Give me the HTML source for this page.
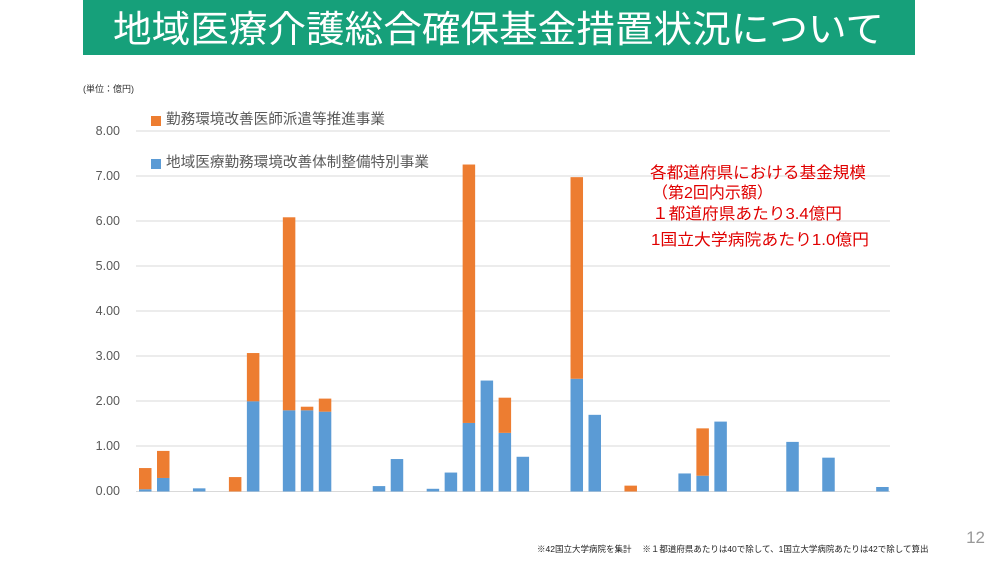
<!DOCTYPE html>
<html><head><meta charset="utf-8"><style>
body{margin:0;background:#fff;width:1000px;height:562px;overflow:hidden;font-family:"Liberation Sans","Noto Sans CJK JP",sans-serif}
</style></head><body>
<svg width="1000" height="562" xmlns="http://www.w3.org/2000/svg" style="position:absolute;left:0;top:0;font-family:'Liberation Sans','Noto Sans CJK JP',sans-serif">
<rect x="83" y="0" width="832" height="55" fill="#16a07a"/>
<text x="113" y="42" font-size="37" fill="#fff" textLength="771" lengthAdjust="spacingAndGlyphs">地域医療介護総合確保基金措置状況について</text>
<text x="83" y="92" font-size="9" fill="#333">(単位：億円)</text>
<g stroke="#d9d9d9" stroke-width="1">
<line x1="136" x2="890" y1="131" y2="131"/><line x1="136" x2="890" y1="176" y2="176"/>
<line x1="136" x2="890" y1="221" y2="221"/><line x1="136" x2="890" y1="266" y2="266"/>
<line x1="136" x2="890" y1="311" y2="311"/><line x1="136" x2="890" y1="356" y2="356"/>
<line x1="136" x2="890" y1="401" y2="401"/><line x1="136" x2="890" y1="446" y2="446"/>
<line x1="136" x2="890" y1="491.5" y2="491.5"/>
</g>
<g font-size="12.5" fill="#595959" text-anchor="end">
<text x="120" y="135">8.00</text><text x="120" y="180">7.00</text><text x="120" y="225">6.00</text>
<text x="120" y="270">5.00</text><text x="120" y="315">4.00</text><text x="120" y="360">3.00</text>
<text x="120" y="405">2.00</text><text x="120" y="450">1.00</text><text x="120" y="495">0.00</text>
</g>
<rect x="151" y="116" width="10" height="10" fill="#ed7d31"/>
<text x="166" y="124" font-size="14.5" fill="#595959" textLength="219" lengthAdjust="spacingAndGlyphs">勤務環境改善医師派遣等推進事業</text>
<rect x="151" y="159" width="10" height="10" fill="#5b9bd5"/>
<text x="166" y="167" font-size="14.5" fill="#595959" textLength="263" lengthAdjust="spacingAndGlyphs">地域医療勤務環境改善体制整備特別事業</text>
<g fill="#5b9bd5">
<rect x="139" y="489.24" width="12.5" height="2.26"/>
<rect x="157" y="477.97" width="12.5" height="13.53"/>
<rect x="192.94" y="488.34" width="12.5" height="3.16"/>
<rect x="246.88" y="401.3" width="12.5" height="90.2"/>
<rect x="282.84" y="410.32" width="12.5" height="81.18"/>
<rect x="300.82" y="410.32" width="12.5" height="81.18"/>
<rect x="318.8" y="411.67" width="12.5" height="79.83"/>
<rect x="372.74" y="486.09" width="12.5" height="5.41"/>
<rect x="390.72" y="459.03" width="12.5" height="32.47"/>
<rect x="426.68" y="488.79" width="12.5" height="2.71"/>
<rect x="444.66" y="472.56" width="12.5" height="18.94"/>
<rect x="462.64" y="422.95" width="12.5" height="68.55"/>
<rect x="480.62" y="380.55" width="12.5" height="110.95"/>
<rect x="498.6" y="432.87" width="12.5" height="58.63"/>
<rect x="516.58" y="456.77" width="12.5" height="34.73"/>
<rect x="570.52" y="378.75" width="12.5" height="112.75"/>
<rect x="588.5" y="414.83" width="12.5" height="76.67"/>
<rect x="678.4" y="473.46" width="12.5" height="18.04"/>
<rect x="696.38" y="475.71" width="12.5" height="15.79"/>
<rect x="714.36" y="421.6" width="12.5" height="69.9"/>
<rect x="786.28" y="441.89" width="12.5" height="49.61"/>
<rect x="822.24" y="457.67" width="12.5" height="33.83"/>
<rect x="876.18" y="486.99" width="12.5" height="4.51"/>
</g>
<g fill="#ed7d31">
<rect x="139" y="468.05" width="12.5" height="21.19"/>
<rect x="157" y="450.91" width="12.5" height="27.06"/>
<rect x="228.9" y="477.07" width="12.5" height="14.43"/>
<rect x="246.88" y="353.04" width="12.5" height="48.26"/>
<rect x="282.84" y="217.29" width="12.5" height="193.03"/>
<rect x="300.82" y="406.71" width="12.5" height="3.61"/>
<rect x="318.8" y="398.6" width="12.5" height="13.07"/>
<rect x="462.64" y="164.52" width="12.5" height="258.43"/>
<rect x="498.6" y="397.69" width="12.5" height="35.18"/>
<rect x="570.52" y="177.15" width="12.5" height="201.6"/>
<rect x="624.46" y="485.64" width="12.5" height="5.86"/>
<rect x="696.38" y="428.36" width="12.5" height="47.35"/>
</g>
<g font-size="16" fill="#e00000">
<text x="650" y="178" textLength="216" lengthAdjust="spacingAndGlyphs">各都道府県における基金規模</text>
<text x="652" y="198">（第2回内示額）</text>
<text x="652" y="219" textLength="190" lengthAdjust="spacingAndGlyphs">１都道府県あたり3.4億円</text>
<text x="651" y="245" textLength="218" lengthAdjust="spacingAndGlyphs">1国立大学病院あたり1.0億円</text>
</g>
<text x="537" y="552" font-size="8.5" fill="#222">※42国立大学病院を集計　 ※１都道府県あたりは40で除して、1国立大学病院あたりは42で除して算出</text>
<text x="985" y="543" font-size="17" fill="#999" text-anchor="end">12</text>
</svg>
</body></html>
